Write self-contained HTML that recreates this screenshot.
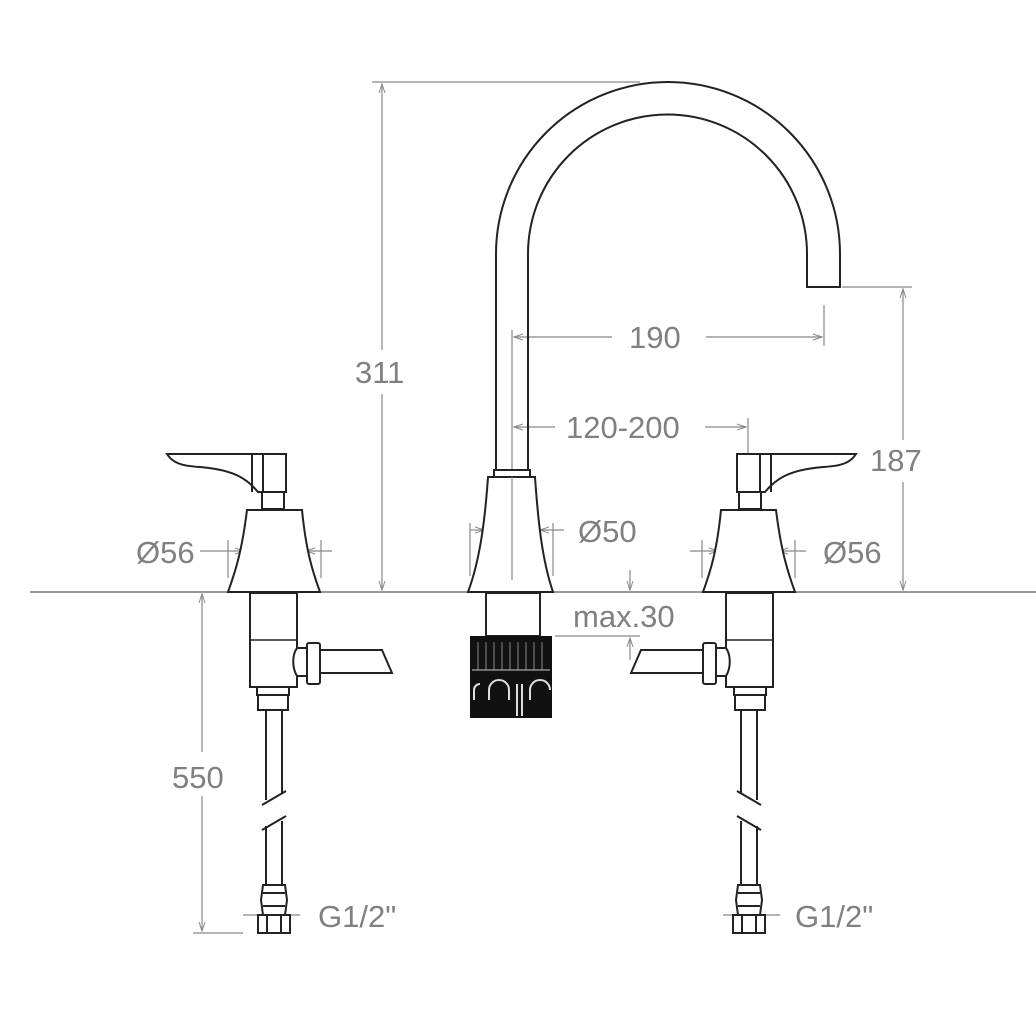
<!DOCTYPE html>
<html><head><meta charset="utf-8"><style>
html,body{margin:0;padding:0;background:#fff;}
svg{display:block;}
text{font-family:"Liberation Sans",sans-serif;fill:#808080;font-size:31px;}
</style></head><body>
<svg width="1036" height="1036" viewBox="0 0 1036 1036" xmlns="http://www.w3.org/2000/svg">
<defs>
<marker id="a" markerWidth="10" markerHeight="8" refX="9" refY="4" orient="auto" markerUnits="userSpaceOnUse"><path d="M0,1 L9,4 L0,7" fill="none" stroke="#888" stroke-width="1"/></marker>
<g id="valve" fill="none" stroke="#222" stroke-width="2">
  <path d="M167,454 L286,454 L286,492 L258,492 C248,480 236,470 200,467 C180,466 172,462 167,454 Z" fill="#fff"/>
  <path d="M252,454 L252,492 M263,454 L263,492"/>
  <rect x="262" y="492" width="22" height="17" fill="#fff"/>
  <path d="M247,510 L302,510 C306,550 312,570 320,592 L228,592 C236,570 242,550 247,510 Z" fill="#fff"/>
  <rect x="250" y="593" width="47" height="94" fill="#fff"/>
  <path d="M250,640 L297,640" stroke-width="1.5"/>
  <path d="M297,648 C292,655 292,668 297,676 L307,676 L307,648 Z" fill="#fff"/>
  <rect x="307" y="643" width="13" height="41" rx="2" fill="#fff"/>
  <path d="M320,650 L382,650 L392,673 L320,673"/>
  <rect x="257" y="687" width="32" height="8" fill="#fff"/>
  <rect x="258" y="695" width="30" height="15" fill="#fff"/>
  <path d="M266,710 L266,800 M282,710 L282,793"/>
  <path d="M262,805 L286,791 M262,830 L286,816"/>
  <path d="M266,826 L266,885 M282,821 L282,885"/>
  <path d="M263,885 L285,885 L287,900 L285,915 L263,915 L261,900 Z" fill="#fff"/>
  <path d="M263,893 L285,893 M263,906 L285,906"/>
  <rect x="258" y="915" width="32" height="18" fill="#fff"/>
  <path d="M267,915 L267,933 M281,915 L281,933"/>
</g>
</defs>

<path d="M30,592 L1036,592" stroke="#777" stroke-width="1.5"/>

<g stroke="#888" stroke-width="1.2" fill="none">
  <path d="M372,82 L640,82"/>
  <path d="M382,350 L382,84" marker-end="url(#a)"/>
  <path d="M382,394 L382,590" marker-end="url(#a)"/>
  <path d="M512,330 L512,520"/>
  <path d="M824,305 L824,346"/>
  <path d="M612,337 L514,337" marker-end="url(#a)"/>
  <path d="M706,337 L822,337" marker-end="url(#a)"/>
  <path d="M748,418 L748,482"/>
  <path d="M555,427 L514,427" marker-end="url(#a)"/>
  <path d="M705,427 L746,427" marker-end="url(#a)"/>
  <path d="M842,287 L912,287"/>
  <path d="M903,440 L903,289" marker-end="url(#a)"/>
  <path d="M903,482 L903,590" marker-end="url(#a)"/>
  <path d="M228,540 L228,578 M321,540 L321,578"/>
  <path d="M200,551 L244,551" marker-end="url(#a)"/>
  <path d="M244,551 L305,551"/>
  <path d="M332,551 L306,551" marker-end="url(#a)"/>
  <path d="M702,540 L702,578 M795,540 L795,578"/>
  <path d="M690,551 L718,551" marker-end="url(#a)"/>
  <path d="M718,551 L780,551"/>
  <path d="M806,551 L779,551" marker-end="url(#a)"/>
  <path d="M470,523 L470,576 M553,523 L553,576"/>
  <path d="M470,530 L484,530" marker-end="url(#a)"/>
  <path d="M484,530 L538,530"/>
  <path d="M564,530 L540,530" marker-end="url(#a)"/>
  <path d="M555,636 L640,636"/>
  <path d="M630,570 L630,590" marker-end="url(#a)"/>
  <path d="M630,660 L630,638" marker-end="url(#a)"/>
  <path d="M202,752 L202,594" marker-end="url(#a)"/>
  <path d="M202,796 L202,931" marker-end="url(#a)"/>
  <path d="M193,933 L243,933"/>
  <path d="M243,915 L300,915 M723,915 L780,915"/>
</g>

<g fill="none" stroke="#222" stroke-width="2">
  <path d="M496,470 L496,254 A172,172 0 0 1 840,254 L840,287 L807,287 L807,254 A139.5,139.5 0 0 0 528,254 L528,470"/>
  <rect x="494" y="470" width="36" height="7" fill="#fff"/>
  <path d="M488,477 L535,477 C538,520 542,560 553,592 L468,592 C480,560 485,520 488,477 Z" fill="#fff"/>
  <rect x="486" y="593" width="54" height="43" fill="#fff"/>
</g>
<path d="M512,477 L512,580" stroke="#888" stroke-width="1.2"/>
<rect x="470" y="636" width="82" height="82" fill="#111"/>
<g stroke="#888" stroke-width="1">
  <path d="M478,642 L478,670 M486,642 L486,670 M494,642 L494,670 M502,642 L502,670 M510,642 L510,670 M518,642 L518,670 M526,642 L526,670 M534,642 L534,670 M542,642 L542,670"/>
  <path d="M472,670 L550,670" stroke="#ccc"/>
</g>
<g fill="none" stroke="#ddd" stroke-width="2">
  <path d="M489,700 L489,690 A10,10 0 0 1 509,690 L509,700"/>
  <path d="M530,700 L530,690 A10,10 0 0 1 550,690"/>
  <path d="M474,700 L474,690 A6,6 0 0 1 480,684"/>
  <path d="M517,684 L517,716 M522,684 L522,716"/>
</g>

<use href="#valve"/>
<use href="#valve" transform="translate(1023,0) scale(-1,1)"/>

<text x="355" y="383">311</text>
<text x="629" y="348">190</text>
<text x="566" y="438">120-200</text>
<text x="870" y="471">187</text>
<text x="136" y="563">Ø56</text>
<text x="823" y="563">Ø56</text>
<text x="578" y="542">Ø50</text>
<text x="573" y="627">max.30</text>
<text x="172" y="788">550</text>
<text x="318" y="927">G1/2"</text>
<text x="795" y="927">G1/2"</text>
</svg>
</body></html>
